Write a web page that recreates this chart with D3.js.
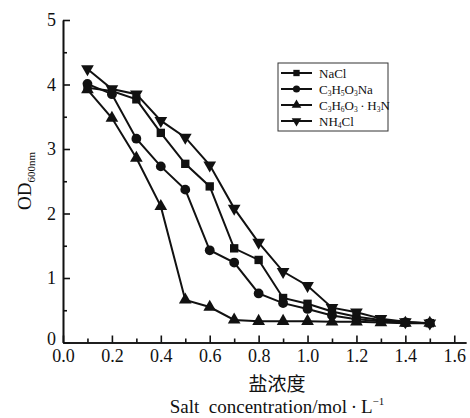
<!DOCTYPE html>
<html>
<head>
<meta charset="utf-8">
<script src="https://cdn.jsdelivr.net/npm/d3@7"></script>
<style>
  body { margin: 0; background: #fff; }
  svg text { font-family: "Liberation Serif", "DejaVu Serif", serif; fill: #111; }
</style>
</head>
<body>
<div id="container"></div>
<script>
/* CONSTANTS AND GLOBALS */
const width = 470,
  height = 418,
  margin = { top: 20, bottom: 76, left: 63, right: 4 };

// salt concentration, mol/L
const conc = [0.1, 0.2, 0.3, 0.4, 0.5, 0.6, 0.7, 0.8, 0.9, 1.0, 1.1, 1.2, 1.3, 1.4, 1.5];

// OD600
const nacl = [3.95, 3.9, 3.77, 3.25, 2.77, 2.42, 1.46, 1.28, 0.69, 0.6, 0.48, 0.4, 0.35, 0.31, 0.3];
const lactateNa = [4.01, 3.85, 3.16, 2.73, 2.37, 1.43, 1.24, 0.76, 0.61, 0.52, 0.42, 0.36, 0.33, 0.31, 0.3];
const lactateNH = [3.92, 3.48, 2.86, 2.11, 0.66, 0.55, 0.35, 0.33, 0.33, 0.33, 0.32, 0.32, 0.31, 0.3, 0.3];
const nh4cl = [4.24, 3.93, 3.85, 3.44, 3.18, 2.75, 2.08, 1.55, 1.1, 0.88, 0.54, 0.47, 0.37, 0.32, 0.3];

const xTicks = [0, 0.2, 0.4, 0.6, 0.8, 1.0, 1.2, 1.4, 1.6];
const yTicks = [0, 1, 2, 3, 4, 5];

// legend labels: [text, isSubscript] pieces
const seriesNames = [
  [["NaCl", false]],
  [["C", false], ["3", true], ["H", false], ["5", true], ["O", false], ["3", true], ["Na", false]],
  [["C", false], ["3", true], ["H", false], ["6", true], ["O", false], ["3", true], ["\u2009·\u2009H", false], ["3", true], ["N", false]],
  [["NH", false], ["4", true], ["Cl", false]]
];
const seriesValues = [nacl, lactateNa, lactateNH, nh4cl];
const symbols = [d3.symbolSquare, d3.symbolCircle, d3.symbolTriangle, d3.symbolTriangle];

const svg = d3.select("#container")
  .append("svg")
  .attr("width", width)
  .attr("height", height);

// scales
const xScale = d3.scaleLinear()
  .domain([0, 1.648])
  .range([margin.left, width - margin.right]);

const yScale = d3.scaleLinear()
  .domain([0, 5])
  .range([342.5, margin.top]);

// axes, ticks pointing inward
const xAxis = d3.axisBottom(xScale)
  .tickValues(xTicks)
  .tickSize(-7)
  .tickSizeOuter(0)
  .tickFormat(d3.format(".1f"));

const xMinor = d3.axisBottom(xScale)
  .tickValues(d3.range(1, 16, 2).map(i => i / 10))
  .tickSize(-4)
  .tickSizeOuter(0)
  .tickFormat("");

const yAxis = d3.axisLeft(yScale)
  .tickValues(yTicks)
  .tickSize(-7)
  .tickSizeOuter(0)
  .tickFormat(d3.format("d"));

const yMinor = d3.axisLeft(yScale)
  .tickValues([0.5, 1.5, 2.5, 3.5, 4.5])
  .tickSize(-4)
  .tickSizeOuter(0)
  .tickFormat("");

const xg = svg.append("g")
  .attr("transform", `translate(0, ${yScale(0)})`)
  .call(xAxis);
xg.selectAll("text").attr("dy", "0.8em").attr("y", 5);

svg.append("g")
  .attr("transform", `translate(0, ${yScale(0)})`)
  .call(xMinor);

const yg = svg.append("g")
  .attr("transform", `translate(${margin.left}, 0)`)
  .call(yAxis);
yg.selectAll("text").attr("x", -7);
yg.selectAll(".tick text").filter(d => d === 0).attr("dy", "0.1em");

svg.append("g")
  .attr("transform", `translate(${margin.left}, 0)`)
  .call(yMinor);

svg.selectAll("g").attr("font-family", null).attr("font-size", null);
svg.selectAll(".domain, .tick line")
  .attr("stroke", "#111")
  .attr("stroke-width", 1.6);
svg.selectAll(".tick text")
  .attr("fill", "#111")
  .attr("font-size", 18)
  .attr("font-family", "Liberation Serif");

// lines and markers
const line = d3.line()
  .x((d, i) => xScale(conc[i]))
  .y(d => yScale(d));

seriesValues.forEach((vals, s) => {
  svg.append("path")
    .datum(vals)
    .attr("fill", "none")
    .attr("stroke", "#111")
    .attr("stroke-width", 2)
    .attr("d", line);

  const sym = d3.symbol().type(symbols[s]).size(s === 1 ? 75 : 70);
  svg.append("g")
    .selectAll("path")
    .data(vals)
    .join("path")
    .attr("d", sym)
    .attr("fill", "#111")
    .attr("transform", (d, i) =>
      `translate(${xScale(conc[i])}, ${yScale(d)})` + (s === 3 ? " rotate(180)" : ""));
});

// legend
const legend = svg.append("g").attr("transform", "translate(278, 63)");
legend.append("rect")
  .attr("width", 110)
  .attr("height", 68)
  .attr("fill", "#fff")
  .attr("stroke", "#333")
  .attr("stroke-width", 1);

seriesNames.forEach((parts, s) => {
  const yy = 10 + s * 16;
  legend.append("line")
    .attr("x1", 3).attr("x2", 34)
    .attr("y1", yy).attr("y2", yy)
    .attr("stroke", "#111").attr("stroke-width", 2);
  legend.append("path")
    .attr("d", d3.symbol().type(symbols[s]).size(40))
    .attr("fill", "#111")
    .attr("transform", `translate(18.5, ${yy})` + (s === 3 ? " rotate(180)" : ""));
  const t = legend.append("text")
    .attr("x", 41)
    .attr("y", yy + 4.5)
    .style("font-size", "13px");
  parts.forEach(([txt, sub], i) => {
    const prevSub = i > 0 && parts[i - 1][1];
    const ts = t.append("tspan").text(txt)
      .attr("dy", sub && !prevSub ? 2 : (!sub && prevSub ? -2 : 0));
    if (sub) ts.style("font-size", "7.5px");
  });
});

// axis titles
const yTitle = svg.append("text")
  .attr("transform", "translate(31, 181) rotate(-90)")
  .attr("text-anchor", "middle")
  .style("font-size", "19px");
yTitle.append("tspan").text("OD");
yTitle.append("tspan").text("600nm").style("font-size", "11px").attr("dy", 4);

svg.append("text")
  .attr("x", 277)
  .attr("y", 391)
  .attr("text-anchor", "middle")
  .style("font-family", "'Noto Sans CJK SC', sans-serif")
  .style("font-size", "19px")
  .text("盐浓度");

const xTitle = svg.append("text")
  .attr("x", 277)
  .attr("y", 413)
  .attr("text-anchor", "middle")
  .style("font-size", "19px");
xTitle.append("tspan").text("Salt\u00a0\u00a0concentration/mol\u2009·\u2009L");
xTitle.append("tspan").text("−1").style("font-size", "11px").attr("dy", -8);
</script>
</body>
</html>
